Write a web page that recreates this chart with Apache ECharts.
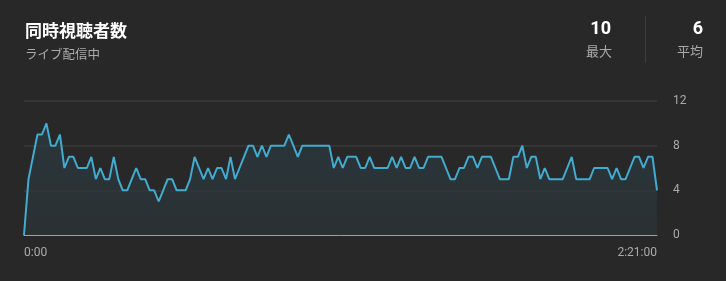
<!DOCTYPE html>
<html>
<head>
<meta charset="utf-8">
<script src="https://cdn.jsdelivr.net/npm/echarts@6/dist/echarts.min.js"></script>
<style>
html,body{margin:0;padding:0;background:#282828;}
#c{width:726px;height:281px;}
</style>
</head>
<body>
<div id="c"></div>
<script>
// 同時視聴者数 per minute (0:00 .. 2:21:00)
const viewers = [
  0,5,7,9,9,10,8,8,9,6,
  7,7,6,6,6,7,5,6,5,5,
  7,5,4,4,5,6,5,5,4,4,
  3,4,5,5,4,4,4,5,7,6,
  5,6,5,6,6,5,7,5,6,7,
  8,8,7,8,7,8,8,8,8,9,
  8,7,8,8,8,8,8,8,8,6,
  7,6,7,7,7,6,6,7,6,6,
  6,6,7,6,7,6,6,7,6,6,
  7,7,7,7,6,5,5,6,6,7,
  7,6,7,7,7,6,5,5,5,7,
  7,8,6,7,7,5,6,5,5,5,
  5,6,7,5,5,5,5,6,6,6,
  6,5,6,5,5,6,7,7,6,7,
  7,4
];
const minutes = viewers.map((_, i) => {
  const h = Math.floor(i / 60), m = i % 60;
  return h === 0 ? '0:' + String(m).padStart(2, '0') : h + ':' + String(m).padStart(2, '0') + ':00';
});
const yTicks = [0, 4, 8, 12];
const titleText = '同時視聴者数';
const subText = 'ライブ配信中';
const statMax = 10;
const statAvg = 6;
const statLabels = ['最大', '平均'];

const jp = '"Noto Sans CJK JP", Roboto, sans-serif';
const chart = echarts.init(document.getElementById('c'), null, {renderer: 'canvas'});
const last = viewers.length - 1;
chart.setOption({
  backgroundColor: '#282828',
  animation: false,
  title: {
    text: titleText,
    subtext: subText,
    left: 20,
    top: 17,
    itemGap: 9,
    textStyle: {color: '#ffffff', fontSize: 17, fontWeight: 'bold', fontFamily: jp},
    subtextStyle: {color: '#aaaaaa', fontSize: 12.5, fontFamily: jp}
  },
  graphic: [
    {type: 'text', right: 115, top: 20, style: {text: String(statMax), fill: '#ffffff', font: 'bold 18px Roboto, sans-serif', textAlign: 'right'}},
    {type: 'text', right: 114, top: 45, style: {text: statLabels[0], fill: '#aaaaaa', font: '13px ' + jp, textAlign: 'right'}},
    {type: 'rect', shape: {x: 645, y: 16, width: 1, height: 47}, style: {fill: '#3e3e3e'}},
    {type: 'text', right: 23, top: 20, style: {text: String(statAvg), fill: '#ffffff', font: 'bold 18px Roboto, sans-serif', textAlign: 'right'}},
    {type: 'text', right: 23, top: 45, style: {text: statLabels[1], fill: '#aaaaaa', font: '13px ' + jp, textAlign: 'right'}}
  ],
  grid: {left: 24, right: 69, top: 101, bottom: 46, containLabel: false},
  xAxis: {
    type: 'category',
    data: minutes,
    boundaryGap: false,
    axisLine: {show: true, lineStyle: {color: '#a0a0a0', width: 1}},
    axisTick: {show: false},
    axisLabel: {
      color: '#aaaaaa', fontSize: 12, fontFamily: 'Roboto, sans-serif', margin: 12,
      interval: (i) => i === 0 || i === last,
      alignMinLabel: 'left', alignMaxLabel: 'right',
      showMinLabel: true, showMaxLabel: true
    },
    splitLine: {show: false}
  },
  yAxis: {
    type: 'value',
    position: 'right',
    min: yTicks[0],
    max: yTicks[yTicks.length - 1],
    interval: yTicks[1] - yTicks[0],
    axisLine: {show: false},
    axisTick: {show: false},
    axisLabel: {color: '#aaaaaa', fontSize: 12, fontFamily: 'Roboto, sans-serif', margin: 16, align: 'left'},
    splitLine: {show: true, lineStyle: {color: '#3a3a3a', width: 1.5}}
  },
  series: [{
    type: 'line',
    data: viewers,
    symbol: 'none',
    lineStyle: {color: '#41acd0', width: 2},
    areaStyle: {
      color: new echarts.graphic.LinearGradient(0, 0, 0, 1, [
        {offset: 0, color: '#2b3d45'},
        {offset: 1, color: '#2c3336'}
      ])
    },
    z: 3
  }]
});
</script>
</body>
</html>
